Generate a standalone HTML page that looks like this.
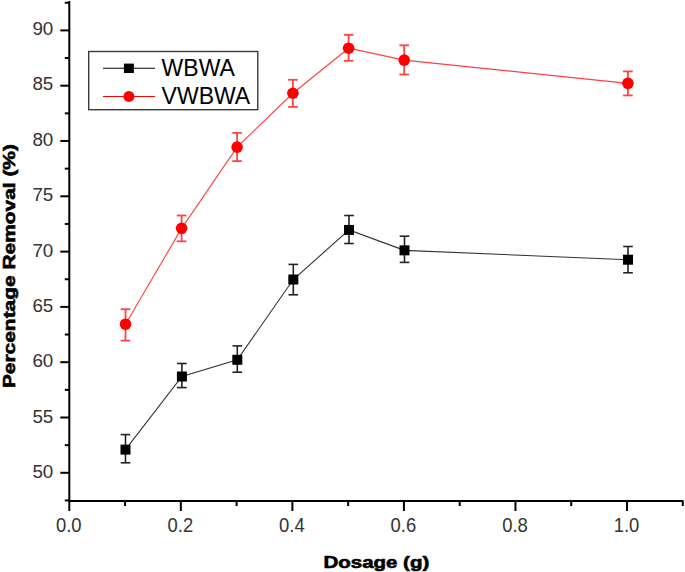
<!DOCTYPE html><html><head><meta charset="utf-8"><style>html,body{margin:0;padding:0;background:#fff;}body{width:685px;height:572px;overflow:hidden;}svg{display:block;}text{font-family:"Liberation Sans",sans-serif;}</style></head><body>
<svg width="685" height="572" viewBox="0 0 685 572">
<g stroke="#000" stroke-width="2" fill="none">
<line x1="69.3" y1="1.0" x2="69.3" y2="502.0"/>
<line x1="68.3" y1="501.0" x2="683.5" y2="501.0"/>
<line x1="64.8" y1="500.45" x2="69.3" y2="500.45"/>
<line x1="60.3" y1="472.80" x2="69.3" y2="472.80"/>
<line x1="64.8" y1="445.15" x2="69.3" y2="445.15"/>
<line x1="60.3" y1="417.50" x2="69.3" y2="417.50"/>
<line x1="64.8" y1="389.85" x2="69.3" y2="389.85"/>
<line x1="60.3" y1="362.20" x2="69.3" y2="362.20"/>
<line x1="64.8" y1="334.55" x2="69.3" y2="334.55"/>
<line x1="60.3" y1="306.90" x2="69.3" y2="306.90"/>
<line x1="64.8" y1="279.25" x2="69.3" y2="279.25"/>
<line x1="60.3" y1="251.60" x2="69.3" y2="251.60"/>
<line x1="64.8" y1="223.95" x2="69.3" y2="223.95"/>
<line x1="60.3" y1="196.30" x2="69.3" y2="196.30"/>
<line x1="64.8" y1="168.65" x2="69.3" y2="168.65"/>
<line x1="60.3" y1="141.00" x2="69.3" y2="141.00"/>
<line x1="64.8" y1="113.35" x2="69.3" y2="113.35"/>
<line x1="60.3" y1="85.70" x2="69.3" y2="85.70"/>
<line x1="64.8" y1="58.05" x2="69.3" y2="58.05"/>
<line x1="60.3" y1="30.40" x2="69.3" y2="30.40"/>
<line x1="64.8" y1="2.75" x2="69.3" y2="2.75"/>
<line x1="69.30" y1="501.0" x2="69.30" y2="511.0"/>
<line x1="125.07" y1="501.0" x2="125.07" y2="506.0"/>
<line x1="180.84" y1="501.0" x2="180.84" y2="511.0"/>
<line x1="236.61" y1="501.0" x2="236.61" y2="506.0"/>
<line x1="292.38" y1="501.0" x2="292.38" y2="511.0"/>
<line x1="348.15" y1="501.0" x2="348.15" y2="506.0"/>
<line x1="403.92" y1="501.0" x2="403.92" y2="511.0"/>
<line x1="459.69" y1="501.0" x2="459.69" y2="506.0"/>
<line x1="515.46" y1="501.0" x2="515.46" y2="511.0"/>
<line x1="571.23" y1="501.0" x2="571.23" y2="506.0"/>
<line x1="627.00" y1="501.0" x2="627.00" y2="511.0"/>
<line x1="682.77" y1="501.0" x2="682.77" y2="506.0"/>
</g>
<g font-size="18.8" fill="#333">
<text x="53.3" y="478.30" text-anchor="end">50</text>
<text x="53.3" y="422.89" text-anchor="end">55</text>
<text x="53.3" y="367.48" text-anchor="end">60</text>
<text x="53.3" y="312.07" text-anchor="end">65</text>
<text x="53.3" y="256.66" text-anchor="end">70</text>
<text x="53.3" y="201.25" text-anchor="end">75</text>
<text x="53.3" y="145.84" text-anchor="end">80</text>
<text x="53.3" y="90.43" text-anchor="end">85</text>
<text x="53.3" y="35.02" text-anchor="end">90</text>
<text transform="translate(68.80 532.0) scale(0.955 1)" text-anchor="middle" font-size="19.3">0.0</text>
<text transform="translate(180.34 532.0) scale(0.955 1)" text-anchor="middle" font-size="19.3">0.2</text>
<text transform="translate(291.88 532.0) scale(0.955 1)" text-anchor="middle" font-size="19.3">0.4</text>
<text transform="translate(403.42 532.0) scale(0.955 1)" text-anchor="middle" font-size="19.3">0.6</text>
<text transform="translate(514.96 532.0) scale(0.955 1)" text-anchor="middle" font-size="19.3">0.8</text>
<text transform="translate(626.50 532.0) scale(0.955 1)" text-anchor="middle" font-size="19.3">1.0</text>
</g>
<text x="376.4" y="567.6" text-anchor="middle" font-size="16.5" font-weight="bold" stroke="#000" stroke-width="0.6" transform="translate(376.4 0) scale(1.24 1) translate(-376.4 0)">Dosage (g)</text>
<text transform="translate(14.5 266.1) rotate(-90) scale(1.268 1)" x="0" y="0" text-anchor="middle" font-size="16.5" font-weight="bold" stroke="#000" stroke-width="0.6">Percentage Removal (%)</text>
<polyline points="125.5,449.6 181.9,376.5 237.3,359.8 293.3,279.5 349.0,229.95 404.5,250.35 628.0,259.7" fill="none" stroke="#333" stroke-width="1.1"/>
<polyline points="125.5,324.2 181.6,228.35 237.1,147.1 292.9,93.25 348.6,48.2 404.2,60.15 627.9,83.35" fill="none" stroke="#ff4040" stroke-width="1.1"/>
<g stroke="#222" stroke-width="1.6" fill="none">
<line x1="125.5" y1="434.6" x2="125.5" y2="462.8"/>
<line x1="120.7" y1="434.6" x2="130.3" y2="434.6"/>
<line x1="120.7" y1="462.8" x2="130.3" y2="462.8"/>
<line x1="181.9" y1="363.5" x2="181.9" y2="387.6"/>
<line x1="177.1" y1="363.5" x2="186.70000000000002" y2="363.5"/>
<line x1="177.1" y1="387.6" x2="186.70000000000002" y2="387.6"/>
<line x1="237.3" y1="345.9" x2="237.3" y2="372.2"/>
<line x1="232.5" y1="345.9" x2="242.10000000000002" y2="345.9"/>
<line x1="232.5" y1="372.2" x2="242.10000000000002" y2="372.2"/>
<line x1="293.3" y1="264.4" x2="293.3" y2="294.8"/>
<line x1="288.5" y1="264.4" x2="298.1" y2="264.4"/>
<line x1="288.5" y1="294.8" x2="298.1" y2="294.8"/>
<line x1="349.0" y1="215.5" x2="349.0" y2="243.5"/>
<line x1="344.2" y1="215.5" x2="353.8" y2="215.5"/>
<line x1="344.2" y1="243.5" x2="353.8" y2="243.5"/>
<line x1="404.5" y1="236.2" x2="404.5" y2="262.4"/>
<line x1="399.7" y1="236.2" x2="409.3" y2="236.2"/>
<line x1="399.7" y1="262.4" x2="409.3" y2="262.4"/>
<line x1="628.0" y1="246.5" x2="628.0" y2="272.8"/>
<line x1="623.2" y1="246.5" x2="632.8" y2="246.5"/>
<line x1="623.2" y1="272.8" x2="632.8" y2="272.8"/>
</g>
<g stroke="#ff4444" stroke-width="1.8" fill="none">
<line x1="125.5" y1="309.2" x2="125.5" y2="340.6"/>
<line x1="120.7" y1="309.2" x2="130.3" y2="309.2"/>
<line x1="120.7" y1="340.6" x2="130.3" y2="340.6"/>
<line x1="181.6" y1="215.5" x2="181.6" y2="241.3"/>
<line x1="176.79999999999998" y1="215.5" x2="186.4" y2="215.5"/>
<line x1="176.79999999999998" y1="241.3" x2="186.4" y2="241.3"/>
<line x1="237.1" y1="132.9" x2="237.1" y2="161.1"/>
<line x1="232.29999999999998" y1="132.9" x2="241.9" y2="132.9"/>
<line x1="232.29999999999998" y1="161.1" x2="241.9" y2="161.1"/>
<line x1="292.9" y1="79.8" x2="292.9" y2="106.9"/>
<line x1="288.09999999999997" y1="79.8" x2="297.7" y2="79.8"/>
<line x1="288.09999999999997" y1="106.9" x2="297.7" y2="106.9"/>
<line x1="348.6" y1="34.8" x2="348.6" y2="60.8"/>
<line x1="343.8" y1="34.8" x2="353.40000000000003" y2="34.8"/>
<line x1="343.8" y1="60.8" x2="353.40000000000003" y2="60.8"/>
<line x1="404.2" y1="45.3" x2="404.2" y2="74.5"/>
<line x1="399.4" y1="45.3" x2="409.0" y2="45.3"/>
<line x1="399.4" y1="74.5" x2="409.0" y2="74.5"/>
<line x1="627.9" y1="71.4" x2="627.9" y2="95.4"/>
<line x1="623.1" y1="71.4" x2="632.6999999999999" y2="71.4"/>
<line x1="623.1" y1="95.4" x2="632.6999999999999" y2="95.4"/>
</g>
<rect x="120.5" y="444.6" width="10" height="10" fill="#000"/>
<rect x="176.9" y="371.5" width="10" height="10" fill="#000"/>
<rect x="232.3" y="354.8" width="10" height="10" fill="#000"/>
<rect x="288.3" y="274.5" width="10" height="10" fill="#000"/>
<rect x="344.0" y="224.95" width="10" height="10" fill="#000"/>
<rect x="399.5" y="245.35" width="10" height="10" fill="#000"/>
<rect x="623.0" y="254.7" width="10" height="10" fill="#000"/>
<circle cx="125.5" cy="324.2" r="5.8" fill="#ff0000"/>
<circle cx="181.6" cy="228.35" r="5.8" fill="#ff0000"/>
<circle cx="237.1" cy="147.1" r="5.8" fill="#ff0000"/>
<circle cx="292.9" cy="93.25" r="5.8" fill="#ff0000"/>
<circle cx="348.6" cy="48.2" r="5.8" fill="#ff0000"/>
<circle cx="404.2" cy="60.15" r="5.8" fill="#ff0000"/>
<circle cx="627.9" cy="83.35" r="5.8" fill="#ff0000"/>
<rect x="88.7" y="51.5" width="169.1" height="58.2" fill="#fff" stroke="#3a3a3a" stroke-width="1.4"/>
<line x1="103" y1="68.3" x2="155" y2="68.3" stroke="#000" stroke-width="1.1"/>
<rect x="123.9" y="63.6" width="10" height="9.4" fill="#000"/>
<line x1="103" y1="96.5" x2="155" y2="96.5" stroke="#ff0000" stroke-width="1.1"/>
<circle cx="128.9" cy="96.45" r="5.5" fill="#ff0000"/>
<g font-size="23" fill="#000">
<text x="161.6" y="75.8">WBWA</text>
<text x="161.6" y="104.4">VWBWA</text>
</g>
</svg></body></html>
